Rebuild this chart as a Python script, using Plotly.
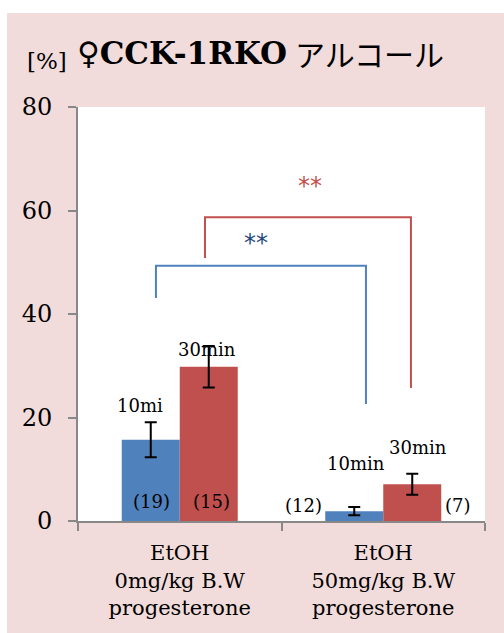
import plotly.graph_objects as go

# Data
categories = ["EtOH<br>0mg/kg B.W<br>progesterone", "EtOH<br>50mg/kg B.W<br>progesterone"]
min10_values = [15.7, 1.9]
min10_errors = [3.4, 0.8]
min30_values = [29.8, 7.1]
min30_errors = [4.0, 2.05]

# Text labels: (text, x position in category units, y value)
time_labels = [("10mi", -0.195, 22.4), ("30min", 0.134, 33.2),
               ("10min", 0.866, 11.2), ("30min", 1.171, 14.3)]
n_labels = [("(19)", -0.141, 3.7), ("(15)", 0.154, 3.7),
            ("(12)", 0.606, 2.9), ("(7)", 1.367, 2.9)]

# Significance brackets: x_left, x_right, y_top, y_left_end, y_right_end
blue_bracket = [-0.117, 0.915, 49.3, 43.1, 22.6]
red_bracket = [0.124, 1.136, 58.7, 50.8, 25.7]
blue_star = ("**", 0.375, 53.7)
red_star = ("**", 0.64, 64.7)

BLUE = "#4F81BD"
RED = "#C0504D"
PINK = "#F2DCDB"
GREY = "#888888"
SERIF = "DejaVu Serif"

fig = go.Figure()
fig.add_trace(go.Bar(
    x=categories, y=min10_values, name="10min", marker_color=BLUE,
    marker_line_width=0,
    error_y=dict(type="data", array=min10_errors, color="black", thickness=2, width=6),
))
fig.add_trace(go.Bar(
    x=categories, y=min30_values, name="30min", marker_color=RED,
    marker_line_width=0,
    error_y=dict(type="data", array=min30_errors, color="black", thickness=2, width=6),
))

annotations = []
for text, x, y in time_labels + n_labels:
    annotations.append(dict(text=text, x=x, y=y, xref="x", yref="y", showarrow=False,
                            font=dict(family=SERIF, size=18, color="black"),
                            xanchor="center", yanchor="middle"))
annotations.append(dict(text=blue_star[0], x=blue_star[1], y=blue_star[2], xref="x", yref="y",
                        showarrow=False, font=dict(family="DejaVu Sans", size=24, color="#1F497D"),
                        xanchor="center", yanchor="middle"))
annotations.append(dict(text=red_star[0], x=red_star[1], y=red_star[2], xref="x", yref="y",
                        showarrow=False, font=dict(family="DejaVu Sans", size=24, color=RED),
                        xanchor="center", yanchor="middle"))

# Title pieces
annotations.append(dict(text="[%]", x=-0.13, y=1.11, xref="paper", yref="paper", showarrow=False,
                        font=dict(family=SERIF, size=23, color="black"),
                        xanchor="left", yanchor="middle"))
annotations.append(dict(text="<b>♀CCK-1RKO</b>", x=-0.008, y=1.13, xref="paper", yref="paper",
                        showarrow=False, font=dict(family=SERIF, size=31, color="black"),
                        xanchor="left", yanchor="middle"))
annotations.append(dict(text="アルコール", x=0.528, y=1.13, xref="paper", yref="paper",
                        showarrow=False, font=dict(family="Noto Sans CJK JP", size=30, color="black"),
                        xanchor="left", yanchor="middle"))


def bracket(b, color):
    xl, xr, yt, yl, yr = b
    return dict(type="path", xref="x", yref="y",
                path=f"M {xl},{yl} L {xl},{yt} L {xr},{yt} L {xr},{yr}",
                line=dict(color=color, width=2))


shapes = [
    # white margin strips around the pink panel
    dict(type="rect", xref="paper", yref="paper", x0=-0.3, x1=1.2, y0=1.2271, y1=1.3,
         fillcolor="white", line_width=0, layer="above"),
    dict(type="rect", xref="paper", yref="paper", x0=-0.3, x1=-0.1744, y0=-0.4, y1=1.3,
         fillcolor="white", line_width=0, layer="above"),
    bracket(blue_bracket, BLUE),
    bracket(red_bracket, RED),
]

fig.update_layout(
    width=504, height=633,
    margin=dict(l=78, r=19, t=107, b=112),
    paper_bgcolor=PINK, plot_bgcolor="white",
    barmode="group", bargap=0.43, bargroupgap=0,
    showlegend=False,
    annotations=annotations,
    shapes=shapes,
    xaxis=dict(
        range=[-0.5, 1.5], showline=True, linecolor=GREY, linewidth=2,
        ticks="outside", tickson="boundaries", ticklen=8, tickwidth=2, tickcolor=GREY,
        ticklabelstandoff=12,
        tickfont=dict(family=SERIF, size=21, color="black"), showgrid=False,
    ),
    yaxis=dict(
        range=[0, 80], tickvals=[0, 20, 40, 60, 80], showline=True, linecolor=GREY, linewidth=2,
        ticks="outside", ticklen=8, tickwidth=2, tickcolor=GREY, ticklabelstandoff=11,
        tickfont=dict(family=SERIF, size=24, color="black"), showgrid=False, zeroline=False,
    ),
)

fig.write_html("out.html")
